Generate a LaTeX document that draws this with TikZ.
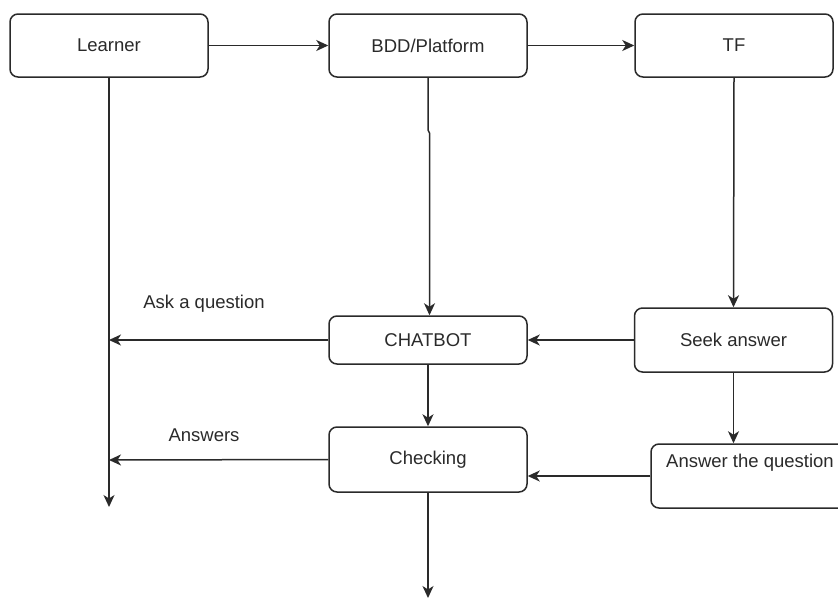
\documentclass[tikz,border=0pt]{standalone}
\usepackage{fontspec}
\setmainfont{Liberation Sans}
\usetikzlibrary{arrows.meta}
\definecolor{ink}{HTML}{2A2A2A}
\begin{document}
\begin{tikzpicture}[x=1pt,y=-1pt,
  box/.style={draw=ink, line width=1.5pt, rounded corners=8pt, minimum width=198pt, text=ink, font=\fontsize{18.5}{22}\selectfont, inner sep=0pt},
  conn/.style={draw=ink, line width=1.5pt, -{Stealth[length=12pt,width=11pt,inset=3.5pt]}},
  lbl/.style={text=ink, font=\fontsize{18.5}{22}\selectfont, inner sep=0pt}]
\useasboundingbox (0,0) rectangle (838,600);
\clip (0,0) rectangle (838,600);
\fill[white] (0,0) rectangle (838,600);
\node[box, minimum height=63pt] (learner) at (109,45.5) {Learner};
\node[box, minimum height=63pt] (bdd) at (428,45.5) {BDD/Platform};
\node[box, minimum height=63pt] (tf) at (734,45.5) {TF};
\node[box, minimum height=48pt] (chat) at (428,340) {CHATBOT};
\node[box, minimum height=64pt] (seek) at (733.5,340) {Seek answer};
\node[box, minimum height=65pt] (check) at (428,459.5) {Checking};
\node[box, minimum height=64pt] (aq) at (750,476) {};
\node[lbl, fill=white] (aqt) at (750,463) {Answer the question};
\coordinate (lrnend) at (109,507);
\coordinate (askend) at (109,340);
\coordinate (ansend) at (109,460);
\coordinate (chkend) at (428,598);
\coordinate (bddk1) at (428,130);
\coordinate (bddk2) at (429.5,133);
\node[lbl] (asklbl) at (204,304) {Ask a question};
\node[lbl] (anslbl) at (204,435) {Answers};
\draw[conn] (learner.east) -- (bdd.west);
\draw[conn] (bdd.east) -- (tf.west);
\draw[conn] (learner.south) -- (lrnend);
\draw[conn] (bdd.south) -- (bddk1) -- (bddk2) -- (bddk2 |- chat.north);
\draw[conn] (tf.south) -- (seek.north);
\draw[conn] (seek.west) -- (chat.east);
\draw[conn] (chat.west) -- (askend);
\draw[conn] (chat.south) -- (check.north);
\draw[conn] (check.west) -- (ansend);
\draw[conn] (seek.south) -- (seek.south |- aq.north);
\draw[conn] (aq.west) -- (check.east |- aq.west);
\draw[conn] (check.south) -- (chkend);
\end{tikzpicture}
\end{document}
